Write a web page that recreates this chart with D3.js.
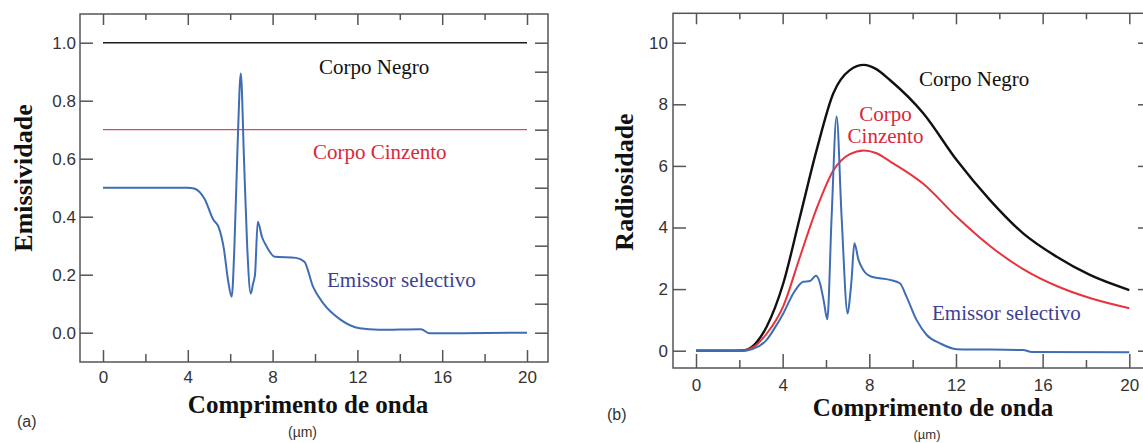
<!DOCTYPE html>
<html>
<head>
<meta charset="utf-8">
<script src="https://cdn.jsdelivr.net/npm/d3@7"></script>
<style>
  body { margin: 0; background: #fff; }
  .tick text { font-family: "Liberation Sans", Arial, sans-serif; font-size: 17px; fill: #333; }
  .tick line { stroke: #555; stroke-width: 1.5; }
  .serif { font-family: "Liberation Serif", "Times New Roman", serif; }
  .sans { font-family: "Liberation Sans", Arial, sans-serif; fill: #333; }
</style>
</head>
<body>
<svg id="chart" width="1143" height="443"></svg>
<script>
// (a) emissivity vs wavelength (um)
var flatWl = [0, 20];
var blackEmis = [1.0, 1.0];
var greyEmis = [0.7, 0.7];
var selWlA = [0, 2, 4.0, 4.3, 4.8, 5.2, 5.45, 5.7, 5.9, 6.07, 6.2, 6.35, 6.5, 6.65, 6.8, 6.97, 7.08, 7.17, 7.3, 7.5, 7.72, 8.1, 9.1, 9.5, 9.9, 10.4, 11.2, 12.1, 13, 15, 15.4, 17, 20];
var selEmis = [0.5, 0.5, 0.5, 0.497, 0.46, 0.39, 0.365, 0.29, 0.18, 0.124, 0.3, 0.65, 0.894, 0.6, 0.3, 0.135, 0.17, 0.2, 0.383, 0.33, 0.297, 0.262, 0.258, 0.245, 0.16, 0.1, 0.045, 0.015, 0.01, 0.012, -0.002, -0.002, 0.0];

// (b) radiosity vs wavelength (um)
var bbWl = [0, 1.5, 2.2, 2.7, 3.26, 4.03, 4.8, 5.57, 6.34, 7.1, 7.75, 8.3, 8.95, 10.49, 12.03, 13.57, 15.1, 16.65, 18.18, 20];
var blackRad = [0, 0, 0.01, 0.2, 0.78, 2.19, 4.35, 6.52, 8.36, 9.11, 9.28, 9.15, 8.79, 7.71, 6.19, 4.89, 3.81, 3.05, 2.46, 1.97];
var greyRad = [0, 0, 0.01, 0.14, 0.55, 1.45, 3.05, 4.62, 5.85, 6.38, 6.5, 6.42, 6.15, 5.42, 4.35, 3.4, 2.65, 2.1, 1.71, 1.38];
var selWlB = [0, 2.2, 2.6, 3.26, 3.6, 4.03, 4.49, 4.95, 5.26, 5.54, 5.72, 5.9, 6.06, 6.26, 6.49, 6.72, 7.0, 7.1, 7.18, 7.31, 7.5, 7.72, 8.11, 8.95, 9.41, 9.72, 10.18, 10.65, 11.26, 12.03, 15.1, 15.5, 20];
var selRad = [0, 0, 0.05, 0.35, 0.7, 1.21, 1.86, 2.24, 2.26, 2.43, 2.2, 1.6, 1.02, 4.35, 7.6, 4.35, 1.21, 1.7, 2.3, 3.49, 2.95, 2.62, 2.4, 2.3, 2.19, 1.75, 1.0, 0.51, 0.24, 0.05, 0.02, -0.04, -0.05];

var xMajor = [0, 4, 8, 12, 16, 20];
var xMinor = [2, 6, 10, 14, 18];
var yMajorA = [0, 0.2, 0.4, 0.6, 0.8, 1.0];
var yRightA = d3.range(0, 11).map(d => d / 10);
var yMajorB = [0, 2, 4, 6, 8, 10];

var svg = d3.select("#chart");

function addAxis(g, axis, tr) {
  var a = g.append("g").attr("transform", tr).call(axis);
  a.select(".domain").remove();
  return a;
}

function panel(o) {
  var g = svg.append("g");
  var f = o.frame;

  addAxis(g, d3.axisBottom(o.x).tickValues(xMajor).tickSize(-o.bMajor).tickPadding(o.xPad).tickFormat(d3.format("d")), `translate(0,${f.bottom})`);
  addAxis(g, d3.axisBottom(o.x).tickValues(xMinor).tickSize(-8).tickFormat(""), `translate(0,${f.bottom})`);
  addAxis(g, d3.axisTop(o.x).tickValues(xMajor).tickSize(-11).tickFormat(""), `translate(0,${f.top})`);
  addAxis(g, d3.axisTop(o.x).tickValues(xMinor).tickSize(-6).tickFormat(""), `translate(0,${f.top})`);
  addAxis(g, d3.axisLeft(o.y).tickValues(o.yMajor).tickSize(-13).tickPadding(o.yPad).tickFormat(o.yFmt), `translate(${f.left},0)`);
  addAxis(g, d3.axisRight(o.y).tickValues(o.yRight).tickSize(-13).tickFormat(""), `translate(${f.right},0)`);

  g.append("rect")
    .attr("x", f.left).attr("y", f.top)
    .attr("width", f.right - f.left).attr("height", f.bottom - f.top)
    .attr("fill", "none").attr("stroke", "#555").attr("stroke-width", 1.5);

  var line = d3.line()
    .x(d => o.x(d[0]))
    .y(d => o.y(d[1]))
    .curve(d3.curveMonotoneX);

  o.series.forEach(function(s) {
    g.append("path")
      .datum(d3.zip(s.wl, s.val))
      .attr("d", line)
      .attr("fill", "none")
      .attr("stroke", s.color)
      .attr("stroke-width", s.width)
      .attr("stroke-linejoin", "round");
  });
  return g;
}

function label(x, y, txt, color, anchor) {
  svg.append("text").attr("class", "serif")
    .attr("x", x).attr("y", y)
    .attr("text-anchor", anchor || "start")
    .attr("font-size", 21).attr("fill", color)
    .text(txt);
}

// panel (a)
var xA = d3.scaleLinear().domain([0, 20]).range([103, 527]);
var yA = d3.scaleLinear().domain([0, 1]).range([332.7, 42.7]);
panel({
  frame: {left: 80, right: 548, top: 14, bottom: 362},
  x: xA, y: yA, bMajor: 12, xPad: 9, yPad: 4,
  yMajor: yMajorA, yRight: yRightA, yFmt: d3.format(".1f"),
  series: [
    {wl: flatWl, val: blackEmis, color: "#1a1a1a", width: 1.6},
    {wl: flatWl, val: greyEmis, color: "#e8435e", width: 1.2},
    {wl: selWlA, val: selEmis, color: "#3f6db3", width: 2}
  ]
});
label(319, 74, "Corpo Negro", "#111");
label(313, 159, "Corpo Cinzento", "#d9283a");
label(327, 287, "Emissor selectivo", "#3d3f94");

// panel (b)
var xB = d3.scaleLinear().domain([0, 20]).range([696, 1129.3]);
var yB = d3.scaleLinear().domain([0, 10]).range([350.7, 42.7]);
panel({
  frame: {left: 673, right: 1151, top: 13.3, bottom: 368},
  x: xB, y: yB, bMajor: 14, xPad: 10.5, yPad: 5,
  yMajor: yMajorB, yRight: yMajorB, yFmt: d3.format("d"),
  series: [
    {wl: bbWl, val: blackRad, color: "#111", width: 2.4},
    {wl: bbWl, val: greyRad, color: "#e8323c", width: 2},
    {wl: selWlB, val: selRad, color: "#3f6db3", width: 2}
  ]
});
label(919, 86, "Corpo Negro", "#111");
label(885.5, 121, "Corpo", "#d9283a", "middle");
label(885.5, 143, "Cinzento", "#d9283a", "middle");
label(932, 320, "Emissor selectivo", "#3d3f94");

// axis titles
function title(x, y, txt, rot, size) {
  svg.append("text").attr("class", "serif")
    .attr("transform", `translate(${x},${y})` + (rot ? " rotate(-90)" : ""))
    .attr("text-anchor", "middle")
    .attr("font-weight", "bold").attr("font-size", size).attr("fill", "#111")
    .text(txt);
}
title(32, 178, "Emissividade", true, 26);
title(308, 413, "Comprimento de onda", false, 25);
title(633, 182, "Radiosidade", true, 26);
title(933, 416, "Comprimento de onda", false, 25);

function small(x, y, txt, size, anchor) {
  svg.append("text").attr("class", "sans")
    .attr("x", x).attr("y", y)
    .attr("text-anchor", anchor || "middle")
    .attr("font-size", size)
    .text(txt);
}
small(302.5, 437, "(\u00b5m)", 14);
small(927, 439, "(\u00b5m)", 13);
small(17, 427, "(a)", 16, "start");
small(607, 420, "(b)", 16, "start");
</script>
</body>
</html>
